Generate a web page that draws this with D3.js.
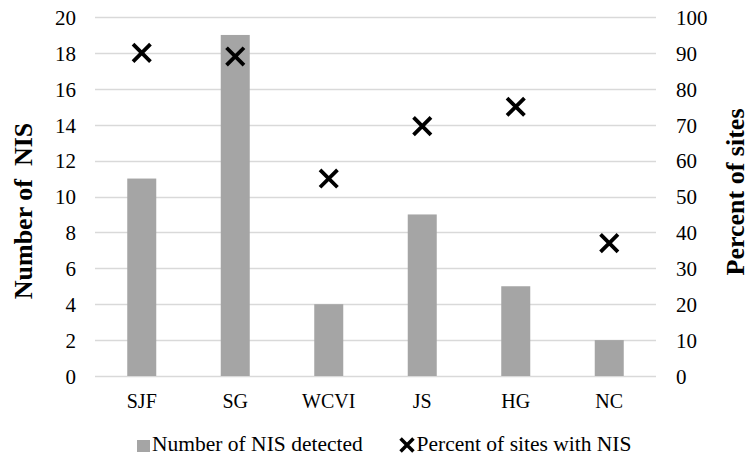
<!DOCTYPE html>
<html>
<head>
<meta charset="utf-8">
<script src="https://cdn.jsdelivr.net/npm/d3@7"></script>
<style>
  body { margin: 0; background: #fff; }
  text { font-family: "Liberation Serif", "Times New Roman", serif; fill: #000; }
</style>
</head>
<body>
<div id="chart"></div>
<script>
var categories = ["SJF", "SG", "WCVI", "JS", "HG", "NC"];
var nisCount = [11, 19, 4, 9, 5, 2];
var pctSites = [90, 89, 55, 69.6, 75, 37];
var leftTicks = [0, 2, 4, 6, 8, 10, 12, 14, 16, 18, 20];
var rightTicks = [0, 10, 20, 30, 40, 50, 60, 70, 80, 90, 100];

var width = 749, height = 459;
var plotL = 95, plotR = 656, plotT = 17, plotB = 376;

var svg = d3.select("#chart").append("svg")
    .attr("width", width)
    .attr("height", height);

var x = d3.scaleBand().domain(categories).range([plotL, plotR]).padding(0);
var yL = d3.scaleLinear().domain([0, 20]).range([plotB, plotT]);
var yR = d3.scaleLinear().domain([0, 100]).range([plotB, plotT]);

// gridlines
svg.append("g").selectAll("line")
    .data(leftTicks)
    .join("line")
    .attr("x1", plotL).attr("x2", plotR)
    .attr("y1", d => Math.round(yL(d)) + 0.5)
    .attr("y2", d => Math.round(yL(d)) + 0.5)
    .attr("stroke", "#d9d9d9")
    .attr("stroke-width", 1.3);

// bars
var barW = 29;
svg.append("g").selectAll("rect")
    .data(categories)
    .join("rect")
    .attr("x", d => x(d) + x.bandwidth() / 2 - barW / 2)
    .attr("y", (d, i) => yL(nisCount[i]))
    .attr("width", barW)
    .attr("height", (d, i) => yL(0) - yL(nisCount[i]))
    .attr("fill", "#a5a5a5");

// left axis
var leftAxis = d3.axisLeft(yL).tickValues(leftTicks).tickSize(0).tickPadding(0);
var gl = svg.append("g").attr("transform", "translate(76,0)").call(leftAxis);
gl.select(".domain").remove();
gl.selectAll("text").style("font-size", "21px").attr("dy", "0.35em");

// right axis
var rightAxis = d3.axisRight(yR).tickValues(rightTicks).tickSize(0).tickPadding(0);
var gr = svg.append("g").attr("transform", "translate(676,0)").call(rightAxis);
gr.select(".domain").remove();
gr.selectAll("text").style("font-size", "21px").attr("dy", "0.35em");

// category axis
var bottomAxis = d3.axisBottom(x).tickSize(0).tickPadding(0);
var gb = svg.append("g").attr("transform", "translate(0,408)").call(bottomAxis);
gb.select(".domain").remove();
gb.selectAll("text").style("font-size", "20px").attr("y", 0).attr("dy", "0");

// markers
var cross = d3.symbol().type(d3.symbolX).size(200);
svg.append("g").selectAll("path")
    .data(categories)
    .join("path")
    .attr("d", cross)
    .attr("transform", (d, i) => "translate(" + (x(d) + x.bandwidth() / 2) + "," + yR(pctSites[i]) + ")")
    .attr("fill", "none")
    .attr("stroke", "#000")
    .attr("stroke-width", 3.8);

// axis titles
svg.append("text")
    .attr("transform", "translate(32,211) rotate(-90)")
    .attr("text-anchor", "middle")
    .style("font-size", "26px")
    .style("font-weight", "bold")
    .style("white-space", "pre")
    .text("Number of  NIS");

svg.append("text")
    .attr("transform", "translate(744,192) rotate(-90)")
    .attr("text-anchor", "middle")
    .style("font-size", "26px")
    .style("font-weight", "bold")
    .text("Percent of sites");

// legend
var legend = svg.append("g").attr("transform", "translate(0,451)");
legend.append("rect")
    .attr("x", 137).attr("y", -11)
    .attr("width", 13).attr("height", 12)
    .attr("fill", "#a5a5a5");
legend.append("text")
    .attr("x", 152)
    .style("font-size", "21.5px")
    .text("Number of NIS detected");
legend.append("path")
    .attr("d", d3.symbol().type(d3.symbolX).size(110))
    .attr("transform", "translate(407,-6)")
    .attr("fill", "none")
    .attr("stroke", "#000")
    .attr("stroke-width", 3.5);
legend.append("text")
    .attr("x", 416.5)
    .style("font-size", "21.5px")
    .text("Percent of sites with NIS");
</script>
</body>
</html>
